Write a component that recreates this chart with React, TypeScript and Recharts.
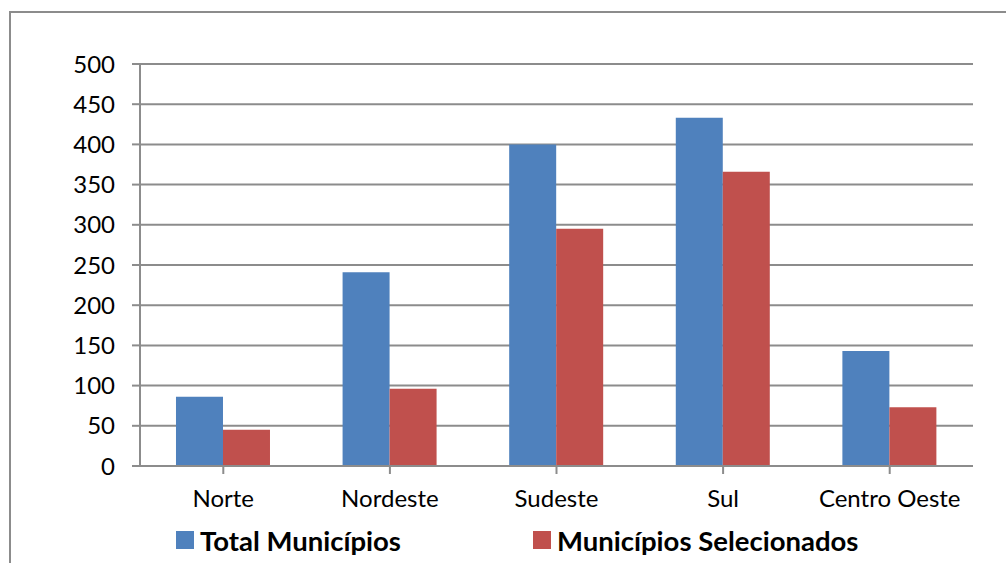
import { BarChart, Bar, XAxis, YAxis, CartesianGrid, Legend } from 'recharts';

const regions = ['Norte', 'Nordeste', 'Sudeste', 'Sul', 'Centro Oeste'];
const totalMunicipios = [86, 241, 400, 433, 143];
const municipiosSelecionados = [45, 96, 295, 366, 73];
const yTicks = [0, 50, 100, 150, 200, 250, 300, 350, 400, 450, 500];

const data = regions.map((name, i) => ({
  name,
  total: totalMunicipios[i],
  selecionados: municipiosSelecionados[i],
}));

const BLUE = '#4F81BD';
const RED = '#C0504D';
const GRID = '#8c8c8c';
const FONT = 'Lato, "Open Sans", sans-serif';

const legendItems = [
  { label: 'Total Municípios', color: BLUE, left: 176 },
  { label: 'Municípios Selecionados', color: RED, left: 533 },
];

function LegendContent() {
  return (
    <div style={{ position: 'relative', height: 42, fontFamily: FONT }}>
      {legendItems.map((item) => (
        <div
          key={item.label}
          style={{
            position: 'absolute',
            left: item.left,
            top: 3,
            height: 32,
            display: 'flex',
            alignItems: 'center',
            fontWeight: 700,
            fontSize: 27.5,
            color: '#000',
          }}
        >
          <span
            style={{
              display: 'inline-block',
              width: 18,
              height: 18,
              background: item.color,
              marginRight: 6,
            }}
          />
          {item.label}
        </div>
      ))}
    </div>
  );
}

export default function App() {
  return (
    <div style={{ position: 'fixed', left: 0, top: 0, width: 1006, height: 563, background: '#fff', overflow: 'hidden' }}>
      {/* chart frame, running off the right and bottom edges */}
      <div
        style={{
          position: 'absolute',
          left: 9,
          top: 11,
          width: 1010,
          height: 570,
          border: `2px solid ${GRID}`,
        }}
      />
      <div style={{ position: 'absolute', left: 0, top: 0 }}>
        <BarChart
          width={1006}
          height={563}
          data={data}
          margin={{ top: 64, right: 33, left: 0, bottom: 0 }}
          barCategoryGap="21.6%"
          barGap={0}
        >
          <CartesianGrid vertical={false} stroke={GRID} strokeWidth={2} />
          <XAxis
            dataKey="name"
            height={55}
            stroke={GRID}
            strokeWidth={2}
            tickSize={8}
            tickMargin={16}
            interval={0}
            tick={{ fill: '#000', fontSize: 24, fontFamily: FONT }}
          />
          <YAxis
            width={140}
            domain={[0, 500]}
            ticks={yTicks}
            interval={0}
            stroke={GRID}
            strokeWidth={2}
            tickSize={8}
            tickMargin={17}
            tick={{ fill: '#000', fontSize: 24, fontFamily: FONT }}
          />
          <Legend verticalAlign="bottom" height={42} content={<LegendContent />} />
          <Bar dataKey="total" name="Total Municípios" fill={BLUE} isAnimationActive={false} />
          <Bar dataKey="selecionados" name="Municípios Selecionados" fill={RED} isAnimationActive={false} />
        </BarChart>
      </div>
    </div>
  );
}
